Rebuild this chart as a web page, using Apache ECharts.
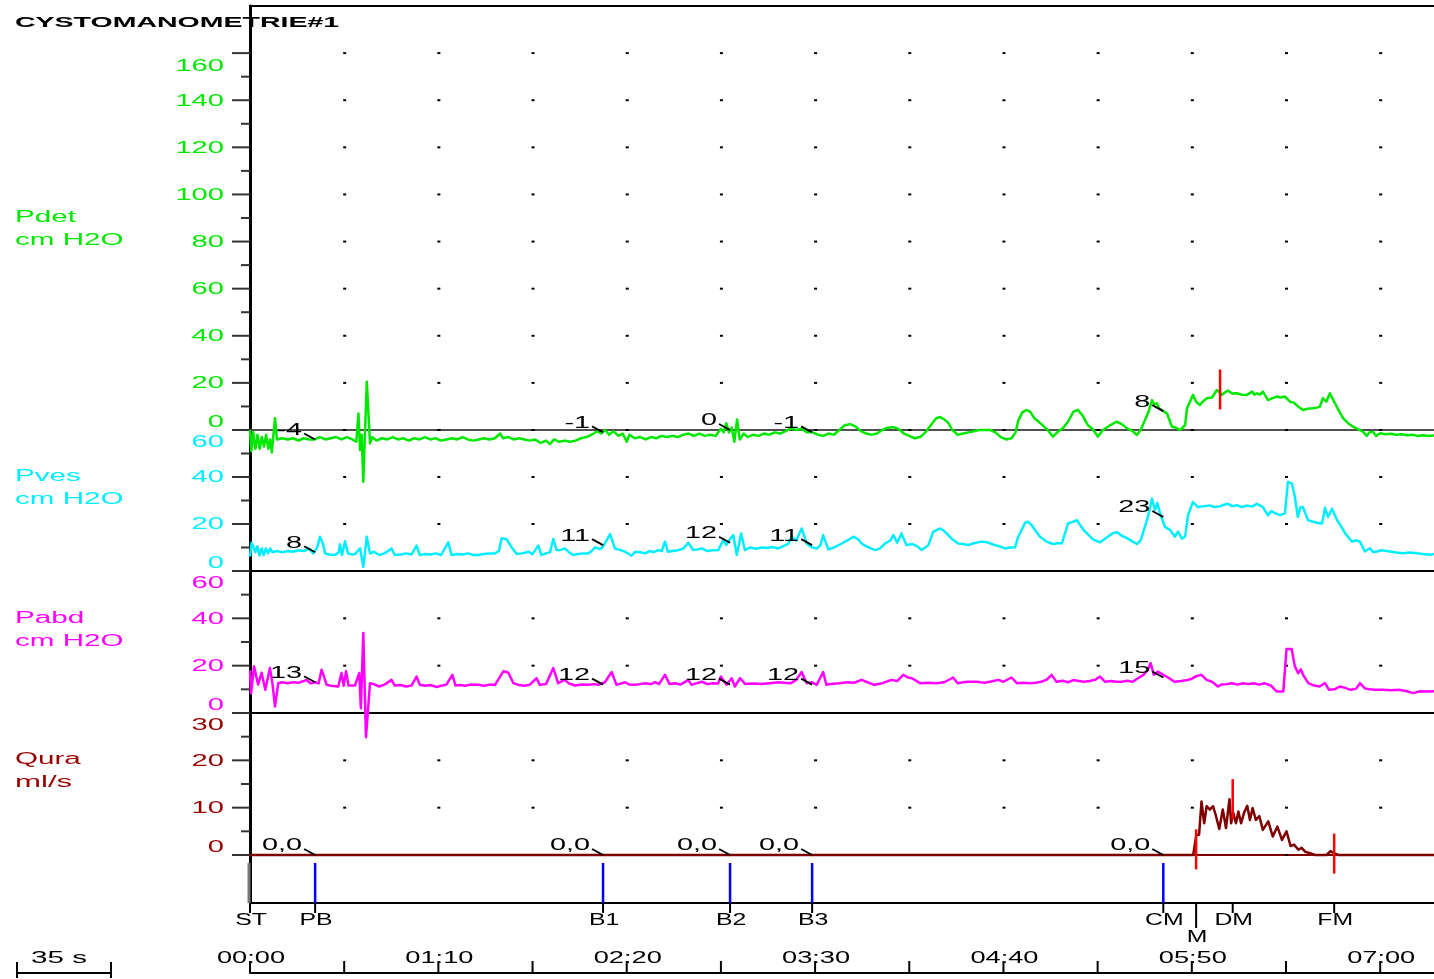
<!DOCTYPE html>
<html><head><meta charset="utf-8">
<script src="https://cdn.jsdelivr.net/npm/echarts@6/dist/echarts.min.js"></script>
<style>html,body{margin:0;padding:0;background:#fff}#c{width:1434px;height:979px}</style>
</head><body><div id="c"></div>
<script>
// ---------- data ----------
const chartTitle = 'CYSTOMANOMETRIE#1';
const timeTicks = [0,35,70,105,140,175,210,245,280,315,350,385,420];
const timeLabelValues = [0,70,140,210,280,350,420];
const timeLabels = ['00:00','01:10','02:20','03:30','04:40','05:50','07:00'];

const pdetTicks = [0,20,40,60,80,100,120,140,160];
const pdetMinor = [10,30,50,70,90,110,130,150];
const pvesTicks = [0,20,40,60];
const pvesMinor = [10,30,50];
const pabdTicks = [0,20,40,60];
const pabdMinor = [10,30,50];
const quraTicks = [0,10,20,30];
const quraMinor = [5,15,25];

const eventNames = ['ST','PB','B1','B2','B3','CM','M','DM','FM'];
const eventTimes = [0,24.2,131.2,178.4,208.9,339.4,351.6,365.2,402.9];
const blueEvents = ['PB','B1','B2','B3','CM'];
const pdetAtEvents = [-4,-1,0,-1,8];
const pvesAtEvents = [8,11,12,11,23];
const pabdAtEvents = [13,12,12,12,15];
const quraAtEvents = [0,0,0,0,0];
const volumeAtPB = [21];

const pdetMaxMark = [[360.5,17.2]];
const quraMarks = [[351.6,1.2],[365.2,11.8],[402.9,0.3]];

const pdet = [[0,0],[0.5,-9],[1.2,-1],[2,-8],[2.8,-2],[3.6,-8],[4.4,-3],[5.2,-7],[6,-2],[6.8,-8],[7.5,-4],[8.1,-9.5],[9.3,5],[10,-4],[12,-3.5],[14,-4],[16,-3.5],[18,-4.5],[20,-3.5],[22,-4],[24,-4],[26,-3],[28,-4],[30,-3.5],[32,-3],[34,-4],[36,-3],[38,-4],[39.5,-5],[40.3,7],[40.9,-8.5],[41.5,-2],[42.1,-22],[43.4,20.5],[44.6,-5.7],[45.5,-3],[47,-4.5],[49,-3.5],[51,-4],[53,-3],[55,-4],[57,-3.5],[59,-4.5],[61,-3.5],[63,-4],[65,-3],[67,-4],[69,-3.5],[71,-4.5],[73,-4],[75,-3.5],[77,-4],[79,-3],[81,-4],[83,-4.5],[85,-4],[87,-3.5],[89,-4],[91,-3.5],[93,-1.5],[94,-3.5],[96,-3],[98,-4],[100,-3.5],[102,-4],[104,-4.5],[106,-4],[108,-5.5],[110,-4.5],[111.5,-6],[113,-4],[115,-5],[117,-4.5],[119,-5],[121,-4.5],[123,-3.5],[125,-3],[127,-2],[129,-0.5],[130.5,-1.5],[132,0],[133.5,-2],[135,-0.5],[137,-2.5],[138.5,-1.5],[140,-5],[141,-2],[143,-3.5],[145,-3],[147,-4],[149,-3],[151,-3.5],[153,-2.5],[155,-3],[157,-2.5],[159,-3],[161,-2],[163,-1.5],[165,-2.5],[167,-1.5],[169,-2.5],[171,-2],[173,-2.5],[175,0.5],[176,-1],[177,2.8],[178,-1],[179,1],[180,-5],[181,4.5],[182,-4],[183.5,-1.5],[185,-3],[187,-2],[189,-2.5],[191,-1.5],[193,-2],[195,-1],[197,-1.5],[199,-0.5],[201,0.7],[203,0],[205,0.5],[207,-1],[209,-1],[211,-2],[213,-2.5],[215,-1.5],[217,-2],[219,0],[221,2],[223,2.5],[225,1.5],[227,-0.5],[229,-1.5],[231,-2],[233,-1.5],[235,0],[237,1],[239,1.2],[241,0.5],[243,-1.5],[245,-2.5],[247,-3.5],[249,-3],[251,-1],[253,2],[255,5],[256.4,5.5],[258,4.5],[259.5,3],[261,0],[263,-2],[265,-1.5],[267,-1],[269,-0.5],[271,0],[273,0],[275,0],[277,-1],[279,-3],[281,-4],[283,-3.5],[284.5,-1],[285.5,4],[287,7.5],[288.5,8.5],[289.9,7.8],[291.5,5],[293.6,3],[296,0.5],[298.4,-2.8],[300,-1],[302,0.7],[304,3.5],[306,7.8],[307.7,8.5],[309.5,6],[311.4,2],[313,0.5],[315.1,-2.8],[317,0],[319.6,2],[322,3.5],[324,2.5],[325.9,0.7],[328,-0.5],[329.6,-2.1],[331,0],[332.6,4.2],[334,8],[335.2,12.7],[336,11],[337,11.3],[338,9],[339.4,8],[340.8,7],[342.6,1.4],[344,1],[345.6,0],[347.5,2],[348.2,9.2],[349.3,12],[350.4,14.9],[351.6,12],[353,10.6],[354,12],[355.6,13.5],[357.5,13.8],[359.3,17],[361.2,14.9],[362.3,16],[363.4,16.7],[365,15.5],[366.8,15.6],[368.5,15],[370.5,14.9],[372.4,16.3],[373.3,15],[374.2,15.6],[375.3,15],[376.4,16.3],[378.3,12.7],[380,13.5],[381.6,14.2],[383,13.8],[384.6,14.2],[386.5,12],[388,11.5],[389.5,10],[391.3,8.5],[393,9],[395,9.2],[396.5,9.5],[397.6,9.9],[398.7,13.5],[400,12],[401.3,15.6],[403.2,11.3],[405,7.5],[406.2,5],[408,3],[409.9,1.4],[411.5,0.5],[413.6,-0.7],[415,-2.5],[416,-1],[417.3,-0.7],[418.5,-2.5],[420,-1.4],[422,-1.8],[424,-1.6],[426,-2],[428,-1.8],[430,-2.2],[432,-2],[434,-2.5],[436,-2.2],[438,-2.5],[440,-2.3]];

const pves = [[0,6.1],[0.6,12],[1.2,11.5],[2,8],[2.7,10.5],[3.5,6.6],[4.3,9.6],[5.1,6.8],[5.9,9.6],[6.7,7.5],[7.5,9.6],[8.3,8],[10,8.5],[12,8],[14,8.5],[16,8.2],[18,8.8],[20,8.5],[22,9.5],[23.5,7.5],[24.2,8.2],[25,10],[26,14.6],[27,12],[27.9,7.5],[29.5,7],[31.6,6.8],[33,8],[33.4,11.3],[34.2,6.8],[35.3,12.7],[36.4,7.5],[38,7],[39,7.2],[40.9,9.6],[42.1,1.8],[43.4,14.6],[44.6,7.5],[46,8.2],[48,6.8],[50,7.5],[52.6,9.6],[53.8,6.8],[56,7],[58,7.5],[60,7],[61.9,10.8],[63.1,6.8],[65,7.2],[67,7],[69,7.5],[71,6.8],[73.7,12.2],[74.9,6.8],[77,7.2],[79,7],[81,7.5],[83,6.8],[84.8,6.8],[87,7.2],[89,7.5],[91,7.5],[92.5,8.5],[93.5,13.9],[95.4,13.5],[97.2,10.1],[99.1,7.2],[101,7.5],[103.5,8.2],[105,7.2],[107.1,10.8],[108.3,6.8],[110,7.5],[111.5,8],[112.7,13.6],[113.9,9],[115,8.8],[117,9.6],[118.5,8],[120.1,6.8],[122,7.2],[124,7.5],[125.7,7.5],[127,8.5],[128.2,10.1],[129.5,9.5],[130.7,9.6],[131.9,11.7],[133.8,15.7],[135.6,9.6],[137.5,9],[139.4,8.2],[141.8,6.5],[143.1,8.2],[145,8],[146.8,7.5],[148.5,8.5],[150,8],[151.7,8.9],[153,8.5],[154.2,12.5],[155.3,8.2],[157,8.5],[159,8.8],[161,9.5],[162.9,12],[164.7,8.9],[166.5,9.2],[167.9,9.6],[170,8.5],[172,8.8],[174,8.9],[175.9,13.2],[177,11],[177.7,12.5],[178.4,12],[179.6,15.3],[180.9,6.8],[182.5,16],[183.9,8.9],[185.8,10],[188,9.5],[190.1,10],[192,9.8],[194,10.2],[196.3,9.6],[198,10.5],[200,11.5],[201.3,14.6],[203,13],[205,18.1],[206.9,11.7],[208.7,10.1],[210.6,9.6],[212,11],[213,15.3],[214.9,9.2],[217,10],[219.9,11.7],[222,13],[224.2,14.6],[226,13.5],[227.3,11.7],[229,10.5],[232.3,8.9],[234,9.5],[236,11.7],[238,13],[239.1,15.3],[240.5,12],[242.1,16],[244,11],[246,11.5],[248,10.5],[249.6,8.9],[252.1,11],[253.9,16.7],[256.4,18.1],[258,17],[259.5,15.3],[261,13.5],[263.2,11.7],[265,11.5],[266.9,11],[269,11.8],[271.8,12.5],[274,12.2],[276.8,11],[278.5,10.5],[280.6,9.6],[282.5,10],[284.3,10.1],[285.5,14.6],[287,18],[288,20.5],[289,21],[290.5,19.5],[292,17],[293.6,14.6],[296,12.5],[298.4,11.5],[300,11.8],[301.7,11.8],[304,20.2],[305.5,20.8],[307.3,21.6],[309.6,17.7],[311.5,15.5],[313.3,13.5],[315.9,12.2],[317.5,13.5],[318.8,14.6],[320.5,16],[322.2,16.5],[324,15],[325.9,14],[328,12.5],[329.6,11.5],[331,13],[331.8,16],[333.7,23],[335.2,30.8],[336.3,25.9],[337.2,29],[338.2,24.5],[340,18.8],[341.9,17.5],[343.7,14.6],[344.9,16.8],[346.3,13.8],[347.5,14.6],[348.6,23.7],[350.4,29.3],[352.3,27.2],[354,27.5],[356.7,27.9],[358.5,27.2],[360.4,27.5],[362,28.2],[363.4,28.6],[365,27.6],[366.8,28],[368.5,27.2],[370.5,27.9],[372.4,27.4],[374.2,28.6],[376.4,27.2],[378.3,23.7],[379.5,25.5],[380.9,24.6],[382.8,23.8],[384.6,24.5],[385.7,37.9],[387.2,37.2],[388.3,31.5],[389.4,23],[390.3,27],[391.3,27.2],[393.2,21.6],[395,21],[396.5,20.5],[398.4,20.2],[399.5,26.9],[400.6,23],[402.1,26.5],[404,21.6],[405.5,19],[407,16],[409.5,12.5],[411,13],[412.5,12.5],[414.3,8.3],[416.2,9.7],[417.5,8],[418.8,8.3],[420.5,8.8],[423.6,8.3],[426,7.9],[428.5,7.6],[431,7.9],[433.6,7.6],[436,7.2],[438.5,6.9],[440,7.2]];

const pabd = [[0,18],[0.4,8.3],[1.5,19.7],[3,12],[4.3,17],[5.7,9.8],[7.4,19],[8.4,12],[9.3,2.7],[10.5,12.6],[12,13],[14,12.6],[16,13],[18,12.8],[20,13.5],[21,14],[22.5,12.6],[24.2,13],[25.5,12.5],[26.6,18.3],[28.5,11.9],[30,11.5],[32.8,11.2],[34,16.9],[34.8,11.5],[35.7,17.7],[36.6,11.6],[39,11.6],[40.6,16.9],[41.2,2],[42.1,33.8],[43.1,-10.2],[44.6,12.6],[46,12.2],[48,11.2],[50,12],[52.6,14],[53.8,11.6],[56,11.8],[58,11.2],[60,11.6],[61.9,15.4],[63.1,11.9],[65,11.5],[67,11.8],[69.4,11],[71,11.5],[73,12],[75.2,16.1],[76.4,11.6],[78,11.8],[80,11.5],[82,12],[84.8,11.9],[87,11.5],[89,12],[91,11.8],[94.2,17.7],[96,17],[97.9,12.6],[100,11.8],[102,11.5],[104,12],[106.5,14.7],[107.7,11.9],[110,12.2],[112.7,19],[114.5,12.6],[117,14],[118.5,12.5],[120.8,11.6],[123,12],[125.7,11.9],[128,12.2],[129.5,11.9],[131.9,13],[134.4,17.3],[136.2,11.9],[139.4,13],[141,12],[143.1,11.9],[145,12.2],[147,12.6],[149,12.2],[150.5,13],[152,12.2],[154.2,16.1],[155.9,12.3],[158,12.6],[160,12],[162.9,14],[164.1,11.9],[166,12.6],[168,13.2],[170,12.2],[172,12.6],[174,12.5],[175,15.4],[177.1,11.9],[179,14.7],[180.2,11.2],[182.1,14.7],[184,12.3],[187,12.5],[190,12.3],[193,12.6],[196.3,13],[198.5,12.8],[201,12.6],[203,14],[205,17.3],[206.9,12.6],[208.7,13],[210.6,11.9],[213,17.3],[214.2,11.9],[216,12.3],[219,12.6],[222,13],[224.5,12.8],[227.3,14],[229,13.2],[232,11.9],[235,12.6],[238.4,14],[240.5,13.5],[242.8,16.1],[244.5,15],[246,14.7],[249,12.6],[252,12.8],[255,12.6],[258,13],[261.3,15],[263,12.6],[265,13],[267,13.2],[270,13.2],[273,12.8],[275,13.2],[278.1,14],[280,13.2],[283,15],[285,12.6],[287,12.8],[289.9,12.6],[292,12.8],[294,13.2],[296,14],[297.9,16.1],[299.7,13.2],[302,13.6],[304,13],[306,13.9],[308,13.5],[310,13.2],[312,13.5],[314,14],[315.9,15.4],[317.8,13.2],[320,13.5],[322,13.2],[324,13.2],[326,13.6],[328,13.2],[330,14.7],[332,16.1],[333.7,18.3],[334.7,21.1],[335.9,16.1],[337.4,17.5],[339.4,16.1],[341.5,14.8],[343.5,13.2],[346,13.5],[348,13.8],[350,14.5],[351.5,15.5],[353.6,16.1],[355.5,14],[357.5,13.2],[359.7,11.2],[361,12],[363,12.2],[365,12.6],[367,12],[369,12.6],[371,12.2],[373,12.6],[375,12],[377,12.6],[379.5,11.5],[381.5,9.1],[384,9.1],[385.2,27],[387.1,27],[388.3,19.7],[389.5,16.8],[390.5,18.5],[391.4,16],[393.3,12.6],[395.5,11.6],[397.5,11.2],[399.5,12.6],[401,9.8],[403,10],[405,11.2],[407,10.6],[409,9.8],[411,10.2],[412.5,12.6],[414.3,10.4],[416,10],[418,9.8],[421,9.8],[424,9.6],[427,9.8],[430,9.2],[432.2,8.4],[435,9.2],[438.5,9.1],[440,9.2]];

const qura = [[0,0],[350.5,0],[351.7,4.3],[352.7,4.3],[353.6,11.3],[354.6,6.7],[355.5,10.3],[356.7,9.6],[357.9,10.3],[359,8.2],[360.2,5.5],[361.5,9.6],[362.7,5.7],[364,11.8],[364.6,6.7],[365.4,8.9],[366.4,6.7],[367.3,9.2],[368.3,6.7],[369.4,8.9],[370.6,10.4],[371.6,7.4],[372.6,9.9],[373.8,7.4],[375.1,8.2],[376.4,5.3],[378.4,7.1],[380.1,3.9],[381.8,6],[383.5,3.2],[385.2,5],[386.7,1.9],[388,2.2],[389.6,1.1],[390.8,1.5],[392.1,0.7],[393.9,0.4],[395.8,0],[398,0],[400.1,0],[401.5,0.8],[402,1.1],[402.8,0.4],[403.5,0],[404.5,0],[406,0],[408,0],[410,0],[413,0],[416,0],[420,0],[425,0],[430,0],[435,0],[440,0]];

// ---------- styles ----------
const FONT = 'Liberation Sans, Arial, sans-serif';
const C_PDET = '#00e800', C_PVES = '#00eeff', C_PABD = '#ff00ff', C_QURA = '#800000', C_QURA_TXT = '#990000';
const dotTimes = timeTicks.filter(t => t > 0);

function txt(x, y, text, color, opts) {
  opts = opts || {};
  return {type:'text', x:x, y:y, scaleX: opts.sx || 1.85, z: 20,
    style:{text:text, fill:color, fontSize: opts.fs || 16, fontFamily: FONT, fontWeight: opts.fw || 'normal',
      align: opts.align || 'left', verticalAlign:'middle'}};
}

function decoSeries(gi, majors, minors, color) {
  const items = majors.map(v => [0, v, 1]).concat(minors.map(v => [0, v, 0]));
  return {
    type:'custom', xAxisIndex:gi, yAxisIndex:gi, clip:false, silent:true, z:3, animation:false,
    data: items,
    renderItem: function (params, api) {
      const v = api.value(1), isMajor = api.value(2) === 1;
      const p = api.coord([0, v]);
      const ch = [{type:'line', shape:{x1:p[0]-(isMajor?18:9), y1:p[1], x2:p[0], y2:p[1]}, style:{stroke:'#333', lineWidth:2}}];
      if (isMajor) {
        const idx = majors.indexOf(v);
        let dy = 1;
        if (idx === majors.length - 1) dy = 13; else if (idx === 0) dy = -7;
        ch.push({type:'text', x:p[0]-26, y:p[1]+dy, scaleX:1.82,
          style:{text:String(v), fill:color, fontSize:16, fontFamily:FONT, align:'right', verticalAlign:'middle'}});
        dotTimes.forEach(function (t) {
          const q = api.coord([t, v]);
          ch.push({type:'rect', shape:{x:q[0]-1, y:q[1]-1, width:3, height:2}, style:{fill:'#000'}});
        });
      }
      return {type:'group', children: ch};
    }
  };
}

function traceSeries(gi, data, color, z) {
  return {type:'line', xAxisIndex:gi, yAxisIndex:gi, data:data, showSymbol:false, symbol:'none',
    smooth:false, clip:false, animation:false, silent:true, z: z || 4,
    lineStyle:{color:color, width:2.5, join:'round'}};
}

function annotSeries(gi, times, values, fmt) {
  return {type:'custom', xAxisIndex:gi, yAxisIndex:gi, clip:false, silent:true, z:8, animation:false,
    data: times.map((t, i) => [t, values[i]]),
    renderItem: function (params, api) {
      const p = api.coord([api.value(0), api.value(1)]);
      const label = fmt(values[params.dataIndex]);
      return {type:'group', children:[
        {type:'line', shape:{x1:p[0]-11, y1:p[1]-6, x2:p[0], y2:p[1]}, style:{stroke:'#000', lineWidth:1.8}},
        {type:'text', x:p[0]-13, y:p[1]-9, scaleX:1.8,
          style:{text:label, fill:'#000', fontSize:16, fontFamily:FONT, align:'right', verticalAlign:'middle'}}
      ]};
    }};
}

function markerSeries(gi, pts) {
  return {type:'custom', xAxisIndex:gi, yAxisIndex:gi, clip:false, silent:true, z:9, animation:false,
    data: pts,
    renderItem: function (params, api) {
      const p = api.coord([api.value(0), api.value(1)]);
      return {type:'line', shape:{x1:p[0], y1:p[1]-20, x2:p[0], y2:p[1]+20}, style:{stroke:'#ff0000', lineWidth:2.5}};
    }};
}

const blueTimes = blueEvents.map(n => eventTimes[eventNames.indexOf(n)]);
const grids = [
  {left:250, right:0, top:6, height:424},
  {left:250, right:0, top:430, height:141},
  {left:250, right:0, top:571, height:142},
  {left:250, right:0, top:713, height:142},
  {left:250, right:0, top:855, height:48},
  {left:250, right:0, top:960, height:13}
];
const yRanges = [[0,180],[0,60],[0,60],[0,30],[0,1],[0,1]];
const xLineColors = ['#505050','#000','#000','#800000','#000','#000'];

const option = {
  backgroundColor:'#fff',
  animation:false,
  grid: grids,
  xAxis: grids.map((g, i) => ({gridIndex:i, type:'value', min:0, max:440,
    axisLine:{show:true, onZero:false, lineStyle:{color:xLineColors[i], width:2}},
    axisTick:{show:false}, axisLabel:{show:false}, splitLine:{show:false}})),
  yAxis: grids.map((g, i) => ({gridIndex:i, type:'value', min:yRanges[i][0], max:yRanges[i][1],
    axisLine:{show: i < 5, onZero:false, lineStyle:{color:'#000', width:3}},
    axisTick:{show:false}, axisLabel:{show:false}, splitLine:{show:false}})),
  graphic: {elements: [
    txt(15, 23, chartTitle, '#000', {fw:'bold', fs:15, sx:1.9}),
    txt(15, 218, 'Pdet', C_PDET), txt(15, 241, 'cm H2O', C_PDET),
    txt(15, 477, 'Pves', C_PVES), txt(15, 500, 'cm H2O', C_PVES),
    txt(15, 619, 'Pabd', C_PABD), txt(15, 642, 'cm H2O', C_PABD),
    txt(15, 760, 'Qura', C_QURA_TXT), txt(15, 783, 'ml/s', C_QURA_TXT, {sx:1.95}),
    txt(59, 959, '35 s', '#000', {align:'center'}),
    {type:'line', shape:{x1:17, y1:973, x2:111, y2:973}, style:{stroke:'#000', lineWidth:2}},
    {type:'line', shape:{x1:17, y1:962, x2:17, y2:978}, style:{stroke:'#000', lineWidth:2}},
    {type:'line', shape:{x1:111, y1:962, x2:111, y2:978}, style:{stroke:'#000', lineWidth:2}}
  ]},
  series: [
    {type:'custom', xAxisIndex:0, yAxisIndex:0, clip:false, silent:true, z:3, data:[[0]],
      renderItem: function (params, api) {
        const a = api.coord([0, 180]), b = api.coord([440, 180]);
        return {type:'line', shape:{x1:a[0]-1, y1:a[1], x2:b[0], y2:b[1]}, style:{stroke:'#000', lineWidth:2}};
      }},
    decoSeries(0, pdetTicks, pdetMinor, C_PDET),
    decoSeries(1, pvesTicks, pvesMinor, C_PVES),
    decoSeries(2, pabdTicks, pabdMinor, C_PABD),
    decoSeries(3, quraTicks, quraMinor, C_QURA_TXT),
    traceSeries(0, pdet, C_PDET),
    traceSeries(1, pves, C_PVES),
    traceSeries(2, pabd, C_PABD),
    traceSeries(3, qura, C_QURA, 6),
    markerSeries(0, pdetMaxMark),
    markerSeries(3, quraMarks),
    annotSeries(0, blueTimes, pdetAtEvents, v => String(v)),
    annotSeries(1, blueTimes, pvesAtEvents, v => String(v)),
    annotSeries(2, blueTimes, pabdAtEvents, v => String(v)),
    annotSeries(3, blueTimes, quraAtEvents, v => v.toFixed(1).replace('.', ',')),
    annotSeries(4, [blueTimes[0]], volumeAtPB, v => String(v)),
    {type:'custom', xAxisIndex:4, yAxisIndex:4, clip:false, silent:true, z:7, animation:false,
      data: eventTimes.map((t, i) => [t, i]),
      renderItem: function (params, api) {
        const name = eventNames[params.dataIndex];
        const p = api.coord([api.value(0), 0]);
        const top = api.coord([api.value(0), 0.833]);
        const ch = [];
        if (name === 'ST') ch.push({type:'line', shape:{x1:p[0]-1, y1:top[1], x2:p[0]-1, y2:p[1]}, style:{stroke:'#777', lineWidth:3}});
        if (blueEvents.indexOf(name) >= 0) ch.push({type:'line', shape:{x1:p[0], y1:top[1], x2:p[0], y2:p[1]}, style:{stroke:'#0000ff', lineWidth:2.5}});
        const isM = name === 'M';
        ch.push({type:'line', shape:{x1:p[0], y1:p[1], x2:p[0], y2:p[1] + (isM ? 25 : 10)}, style:{stroke:'#000', lineWidth:2}});
        ch.push({type:'text', x:p[0]+1, y:p[1] + (isM ? 35 : 18), scaleX:1.55,
          style:{text:name, fill:'#000', fontSize:16, fontFamily:FONT, align:'center', verticalAlign:'middle'}});
        return {type:'group', children: ch};
      }},
    {type:'custom', xAxisIndex:5, yAxisIndex:5, clip:false, silent:true, z:7, animation:false,
      data: timeTicks.map(t => [t]),
      renderItem: function (params, api) {
        const t = api.value(0);
        const p = api.coord([t, 0]);
        const ch = [{type:'line', shape:{x1:p[0], y1:p[1], x2:p[0], y2:p[1]-12}, style:{stroke:'#000', lineWidth:2}}];
        const li = timeLabelValues.indexOf(t);
        if (li >= 0) ch.push({type:'text', x:p[0]+1, y:p[1]-14, scaleX:1.7, z2:-1,
          style:{text:timeLabels[li], fill:'#000', fontSize:16, fontFamily:FONT, align:'center', verticalAlign:'middle'}});
        return {type:'group', children: ch};
      }}
  ]
};

const chart = echarts.init(document.getElementById('c'), null, {renderer:'canvas', width:1434, height:979});
chart.setOption(option);
</script>
</body></html>
